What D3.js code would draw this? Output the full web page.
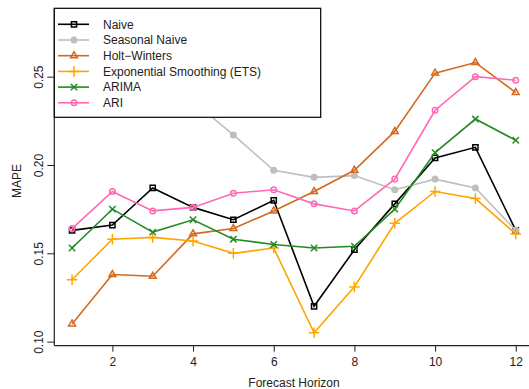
<!DOCTYPE html>
<html>
<head>
<meta charset='utf-8'>
<script src='https://d3js.org/d3.v7.min.js'></script>
<style>
  body {margin:0; background:#fff;}
  text {font-family:'Liberation Sans',Arial,sans-serif; font-size:12px; fill:#222;}
</style>
</head>
<body>
<svg id='chart' width='529' height='389'></svg>
<script>
// forecast horizons
var horizons=[1,2,3,4,5,6,7,8,9,10,11,12];
// MAPE per method (seasonal naive 1-4 sit behind the legend)
var naive=[0.163,0.166,0.187,0.176,0.169,0.180,0.120,0.152,0.178,0.204,0.210,0.163];
var seasonalNaive=[0.270,0.281,0.262,0.236,0.217,0.197,0.193,0.194,0.186,0.192,0.187,0.163];
var holtWinters=[0.110,0.138,0.137,0.161,0.164,0.174,0.185,0.197,0.219,0.252,0.258,0.241];
var ets=[0.135,0.158,0.159,0.157,0.150,0.153,0.105,0.131,0.167,0.185,0.181,0.161];
var arima=[0.153,0.175,0.162,0.169,0.158,0.155,0.153,0.154,0.175,0.207,0.226,0.214];
var ari=[0.164,0.185,0.174,0.176,0.184,0.186,0.178,0.174,0.192,0.231,0.250,0.248];
var yTicks=[0.10,0.15,0.20,0.25];
var xTicks=[2,4,6,8,10,12];

var series=[
  {name:'Naive',values:naive,color:'#000000',sym:d3.symbolSquare2,size:34},
  {name:'Seasonal Naive',values:seasonalNaive,color:'#bebebe',sym:d3.symbolCircle,size:24,fill:true},
  {name:'Holt\u2212Winters',values:holtWinters,color:'#d2691e',sym:d3.symbolTriangle2,size:34},
  {name:'Exponential Smoothing (ETS)',values:ets,color:'#ffa500',sym:d3.symbolPlus,size:38},
  {name:'ARIMA',values:arima,color:'#228b22',sym:d3.symbolTimes,size:28},
  {name:'ARI',values:ari,color:'#ff69b4',sym:d3.symbolCircle,size:24}
];

var svg=d3.select('#chart'),
    pL=54.3,pR=533.5,pT=8.3,pB=345.7;
var x=d3.scaleLinear().domain([0.56,12.44]).range([pL,pR]);
var y=d3.scaleLinear().domain([0.0977,0.2887]).range([pB,pT]);

var g=svg.append('g');
var line=d3.line().x(function(d,i){return x(horizons[i]);}).y(function(d){return y(d);});

series.forEach(function(s){
  g.append('path').attr('d',line(s.values)).attr('fill','none')
   .attr('stroke',s.color).attr('stroke-width',1.6);
  g.selectAll(null).data(s.values).enter().append('path')
   .attr('d',d3.symbol().type(s.sym).size(s.size))
   .attr('transform',function(d,i){return 'translate('+x(horizons[i])+','+y(d)+')';})
   .attr('fill',s.fill?s.color:'none').attr('stroke',s.color).attr('stroke-width',1.5);
});

// axes: left and bottom only
var yAxis=svg.append('g').attr('transform','translate('+pL+',0)')
  .call(d3.axisLeft(y).tickValues(yTicks).tickFormat(d3.format('.2f')).tickSize(7));
yAxis.select('.domain').attr('d','M0,'+pT+'V'+pB);
yAxis.selectAll('.tick text').attr('x',null).attr('dy',null)
  .attr('transform','translate(-16,0) rotate(-90)')
  .attr('dy','0.35em').attr('text-anchor','middle');

var xAxis=svg.append('g').attr('transform','translate(0,'+pB+')')
  .call(d3.axisBottom(x).tickValues(xTicks).tickSize(6).tickPadding(6));
xAxis.select('.domain').attr('d','M'+pL+',0H'+pR);
svg.selectAll('.domain').attr('stroke','#222').attr('stroke-width',1.2);
svg.selectAll('.tick line').attr('stroke','#222');
svg.selectAll('.tick text').style('font-size','12px').attr('fill','#222').style('font-family','Liberation Sans, Arial, sans-serif');

svg.append('text').attr('x',294).attr('y',387).attr('text-anchor','middle').text('Forecast Horizon');
svg.append('text').attr('transform','translate(21,181) rotate(-90)').attr('text-anchor','middle').text('MAPE');

// legend, top-left corner of the plot region
var lg=svg.append('g');
lg.append('rect').attr('x',pL).attr('y',pT).attr('width',266.4).attr('height',109)
  .attr('fill','#fff').attr('stroke','#000').attr('stroke-width',1.2);
series.forEach(function(s,i){
  var ly=pT+16+i*15.7;
  lg.append('line').attr('x1',58).attr('x2',89).attr('y1',ly).attr('y2',ly)
    .attr('stroke',s.color).attr('stroke-width',1.6);
  lg.append('path').attr('d',d3.symbol().type(s.sym).size(s.size))
    .attr('transform','translate(74,'+ly+')')
    .attr('fill',s.fill?s.color:'none').attr('stroke',s.color).attr('stroke-width',1.5);
  lg.append('text').attr('x',103).attr('y',ly).attr('dy','0.35em').text(s.name);
});
</script>
</body>
</html>
